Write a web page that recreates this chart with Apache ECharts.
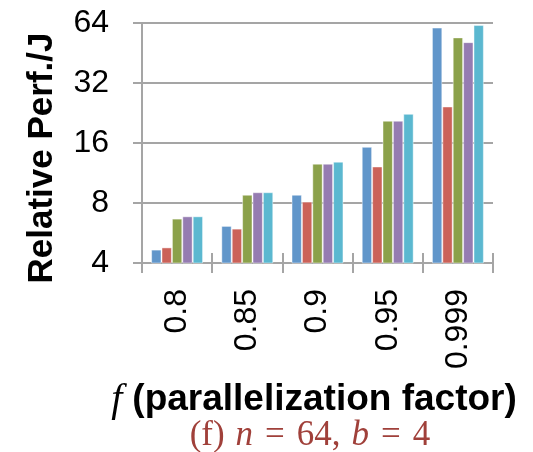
<!DOCTYPE html>
<html>
<head>
<meta charset="utf-8">
<script src="https://cdn.jsdelivr.net/npm/echarts@6/dist/echarts.min.js"></script>
<style>
html,body{margin:0;padding:0;background:#fff;}
#chart{width:533px;height:452px;}
</style>
</head>
<body>
<div id="chart"></div>
<script>
const categories = ['0.8', '0.85', '0.9', '0.95', '0.999'];
const yTicks = [4, 8, 16, 32, 64];
const series1 = [4.67, 6.14, 8.8, 15.3, 60.7];
const series2 = [4.79, 5.95, 8.13, 12.2, 24.4];
const series3 = [6.68, 8.8, 12.6, 20.7, 54.2];
const series4 = [6.86, 9.06, 12.6, 20.7, 51.3];
const series5 = [6.86, 9.06, 12.9, 22.4, 62.5];
const seriesList = [series1, series2, series3, series4, series5];
const colors = ['#6196ca', '#cb6259', '#8ba14a', '#957cb1', '#5bb8d0'];

const chart = echarts.init(document.getElementById('chart'), null, {renderer: 'canvas'});
const sans = 'Liberation Sans, Arial, sans-serif';
const serif = 'Liberation Serif, Times New Roman, serif';
const gridColor = '#a5a5a5';
const capColor = '#a0403a';

const option = {
  animation: false,
  grid: {left: 142, right: 40, top: 23, bottom: 189, containLabel: false},
  xAxis: [
    {
      type: 'category',
      data: categories,
      boundaryGap: true,
      axisLine: {show: true, lineStyle: {color: gridColor, width: 2}},
      axisTick: {show: true, length: 10, lineStyle: {color: gridColor, width: 2}},
      axisLabel: {rotate: 90, margin: 26, fontSize: 32, color: '#000', fontFamily: sans}
    },
    {
      type: 'category',
      data: categories,
      position: 'bottom',
      boundaryGap: true,
      axisLine: {show: false},
      axisTick: {show: true, inside: true, length: 10, lineStyle: {color: gridColor, width: 2}},
      axisLabel: {show: false}
    }
  ],
  yAxis: {
    type: 'log',
    logBase: 2,
    min: yTicks[0],
    max: yTicks[yTicks.length - 1],
    interval: 1,
    axisLine: {show: true, lineStyle: {color: gridColor, width: 2}},
    axisTick: {show: true, length: 9, lineStyle: {color: gridColor, width: 2}},
    splitLine: {show: true, lineStyle: {color: gridColor, width: 2}},
    axisLabel: {margin: 33, fontSize: 32, color: '#000', fontFamily: sans}
  },
  series: seriesList.map((d, i) => ({
    type: 'bar',
    data: d,
    barGap: 0,
    barCategoryGap: '26%',
    itemStyle: {color: colors[i], borderColor: 'rgba(255,255,255,0.45)', borderWidth: 1}
  })),
  graphic: [
    {
      type: 'text',
      x: 42, y: 158,
      rotation: Math.PI / 2,
      style: {
        text: 'Relative Perf./J',
        font: 'bold 35px ' + sans,
        fill: '#000',
        align: 'center',
        verticalAlign: 'middle'
      }
    },
    {
      type: 'text',
      x: 314, y: 400,
      style: {
        text: '{fi|f}{b|(parallelization factor)}',
        align: 'center',
        verticalAlign: 'middle',
        rich: {
          fi: {fontFamily: serif, fontStyle: 'italic', fontSize: 40, fill: '#000', padding: [0, 10, 0, 0]},
          b: {fontFamily: sans, fontWeight: 'bold', fontSize: 37, fill: '#000'}
        }
      }
    },
    {
      type: 'text',
      x: 310, y: 436,
      style: {
        text: '{r|(f)}{i|n}{e|=}{r|64,}{i|b}{e|=}{r|4}',
        align: 'center',
        verticalAlign: 'middle',
        rich: {
          r: {fontFamily: serif, fontSize: 35, fill: capColor},
          i: {fontFamily: serif, fontStyle: 'italic', fontSize: 35, fill: capColor, padding: [0, 0, 0, 11]},
          e: {fontFamily: serif, fontSize: 35, fill: capColor, padding: [0, 12, 0, 12]}
        }
      }
    }
  ]
};
chart.setOption(option);
</script>
</body>
</html>
